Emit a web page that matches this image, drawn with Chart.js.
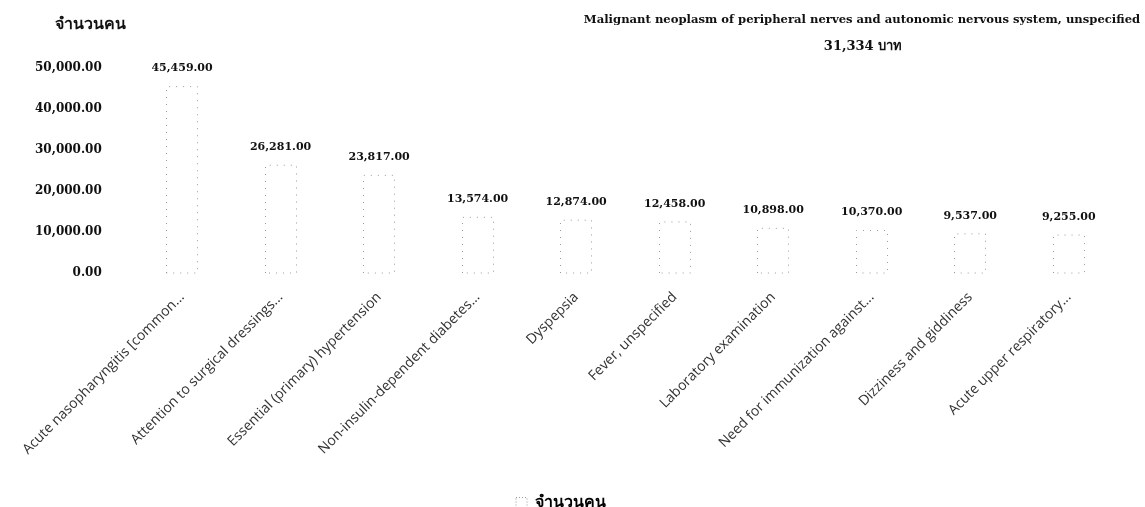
<!DOCTYPE html>
<html>
<head>
<meta charset="utf-8">
<script src="https://cdn.jsdelivr.net/npm/chart.js@4.4.1/dist/chart.umd.min.js"></script>
<style>
  html, body { margin: 0; padding: 0; background: #ffffff; }
  #wrap { width: 1145px; height: 507px; position: relative; }
</style>
</head>
<body>
<div id="wrap"><canvas id="c" width="1145" height="507"></canvas></div>
<script>
const categories = [
  "Acute nasopharyngitis [common...",
  "Attention to surgical dressings...",
  "Essential (primary) hypertension",
  "Non-insulin-dependent diabetes...",
  "Dyspepsia",
  "Fever, unspecified",
  "Laboratory examination",
  "Need for immunization against...",
  "Dizziness and giddiness",
  "Acute upper respiratory..."
];
const values = [45459, 26281, 23817, 13574, 12874, 12458, 10898, 10370, 9537, 9255];
const yTickValues = [0, 10000, 20000, 30000, 40000, 50000];
const seriesLabel = "จำนวนคน";
const yAxisTitle = "จำนวนคน";
const titleLine = "Malignant neoplasm of peripheral nerves and autonomic nervous system, unspecified";
const subtitleLine = "31,334 บาท";

const serif = "'DejaVu Serif', 'Liberation Serif', 'Noto Sans', serif";
const fmt = v => v.toLocaleString('en-US', {minimumFractionDigits: 2, maximumFractionDigits: 2});

const decorPlugin = {
  id: 'decor',
  afterLayout(chart) {
    if (chart.legend) { chart.legend.top += 14; chart.legend.bottom += 14; }
  },
  afterDatasetsDraw(chart) {
    const ctx = chart.ctx;
    const meta = chart.getDatasetMeta(0);
    ctx.save();
    ctx.strokeStyle = '#9a9a9a';
    ctx.lineWidth = 1;
    ctx.setLineDash([1, 6]);
    meta.data.forEach(bar => {
      const p = bar.getProps(['x', 'y', 'base', 'width'], true);
      const l = Math.round(p.x - p.width / 2) + 0.5;
      const r = Math.round(p.x + p.width / 2) - 0.5;
      ctx.beginPath();
      ctx.moveTo(l, p.base);
      ctx.lineTo(l, p.y);
      ctx.lineTo(r, p.y);
      ctx.lineTo(r, p.base);
      ctx.lineTo(l, p.base);
      ctx.stroke();
    });
    ctx.setLineDash([]);
    // value labels
    ctx.fillStyle = '#111';
    ctx.font = "bold 11px " + serif;
    ctx.textAlign = 'center';
    ctx.textBaseline = 'middle';
    meta.data.forEach((bar, i) => {
      const p = bar.getProps(['x', 'y'], true);
      ctx.fillText(fmt(values[i]), p.x, p.y - 18);
    });
    // titles
    ctx.font = "bold 11.6px " + serif;
    ctx.fillText(titleLine, 862, 20);
    ctx.font = "bold 13px " + serif;
    ctx.fillText(subtitleLine, 863, 47);
    ctx.textAlign = 'left';
    ctx.font = "bold 16px " + serif;
    ctx.fillText(yAxisTitle, 55, 25);
    ctx.restore();
  }
};

new Chart(document.getElementById('c'), {
  type: 'bar',
  data: {
    labels: categories,
    datasets: [{
      label: seriesLabel,
      data: values,
      backgroundColor: 'rgba(255,255,255,0)',
      borderWidth: 0,
      categoryPercentage: 0.65,
      barPercentage: 0.5
    }]
  },
  options: {
    responsive: false,
    animation: false,
    devicePixelRatio: 1,
    layout: { padding: { top: 68, right: 27, left: 4, bottom: 0 } },
    plugins: {
      title: { display: false },
      tooltip: { enabled: false },
      legend: {
        position: 'bottom',
        labels: {
          boxWidth: 11,
          boxHeight: 11,
          padding: 2,
          color: '#111',
          font: { family: serif, size: 16, weight: 'bold' },
          generateLabels: (chart) => [{
            text: seriesLabel,
            fillStyle: 'rgba(255,255,255,0)',
            strokeStyle: '#999',
            lineWidth: 1,
            lineDash: [1, 2],
            datasetIndex: 0,
            hidden: false
          }]
        }
      }
    },
    scales: {
      x: {
        grid: { display: false, drawTicks: false },
        border: { display: false },
        afterFit: (scale) => { scale.height = 206; },
        ticks: {
          minRotation: 45, maxRotation: 45, autoSkip: false,
          padding: 16,
          color: '#333',
          font: { family: "'Open Sans', 'Noto Sans', sans-serif", size: 14 }
        }
      },
      y: {
        min: 0, max: 50000,
        grid: { display: false, drawTicks: false },
        border: { display: false },
        afterBuildTicks: (scale) => { scale.ticks = yTickValues.map(v => ({ value: v })); },
        ticks: {
          padding: 31,
          color: '#111',
          font: { family: serif, size: 12, weight: 'bold' },
          callback: (v) => fmt(v)
        }
      }
    }
  },
  plugins: [decorPlugin]
});
</script>
</body>
</html>
